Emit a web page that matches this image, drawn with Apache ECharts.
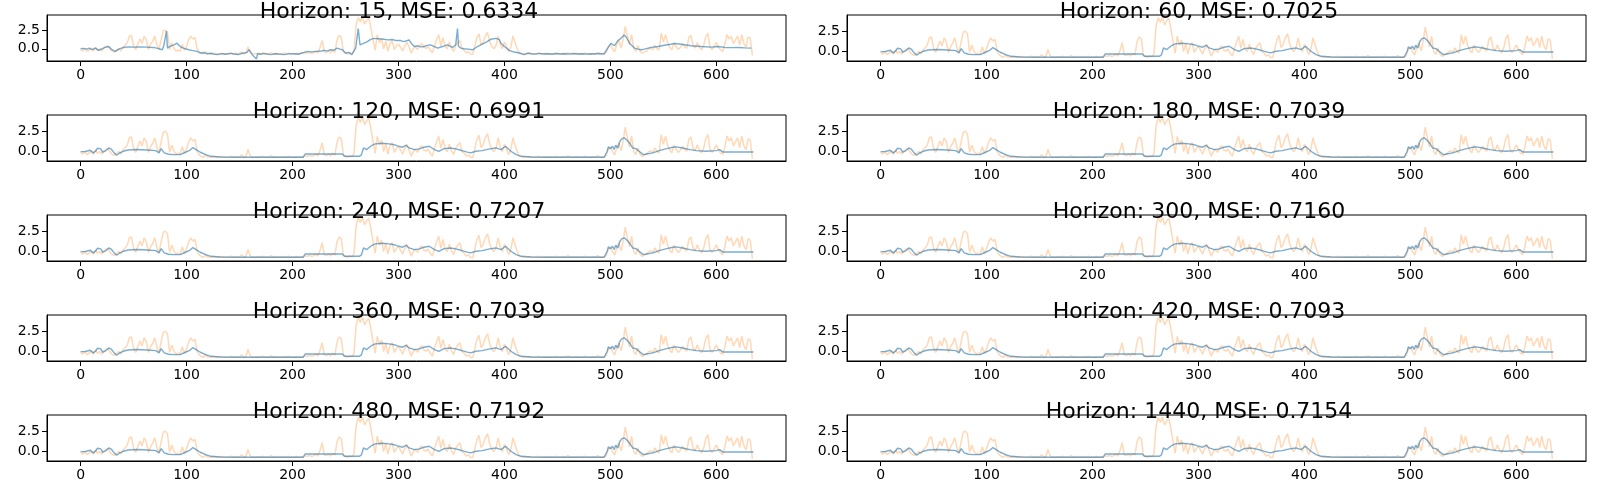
<!DOCTYPE html>
<html>
<head>
<meta charset="utf-8">
<script src="https://cdn.jsdelivr.net/npm/echarts@6/dist/echarts.min.js"></script>
<style>
html,body{margin:0;padding:0;background:#fff}
#main{width:1600px;height:500px}
</style>
</head>
<body>
<div id="main"></div>
<script>
// subplot labels, row-major (left col, right col)
var horizons = [15, 60, 120, 180, 240, 300, 360, 420, 480, 1440];
var mseVals = ['0.6334', '0.7025', '0.6991', '0.7039', '0.7207', '0.7160', '0.7039', '0.7093', '0.7192', '0.7154'];
var xTicks = [0, 100, 200, 300, 400, 500, 600];
var yTicks = [0, 2.5];

// ground truth, one value every 2 steps (0..634)
var actualStep = 2;
var actual = [
  -0.1,-0.3,0.0,-0.35,-0.2,0.1,-0.3,0.2,-0.2,0.0,-0.3,0.1,0.3,0.35,-0.1,-0.35,-0.45,-0.2,0.0,-0.3,0.2,
  0.45,0.8,1.7,1.8,0.4,-0.1,0.6,1.3,0.7,1.7,1.2,-0.1,0.6,1.0,1.7,0.5,-0.1,1.2,2.4,2.5,2.2,-0.1,0.8,0.1,
  -0.3,-0.2,-0.3,0.6,-0.2,0.3,1.2,1.7,1.3,1.5,0.0,-0.4,-0.6,-0.7,-0.4,-0.7,-0.65,-0.7,-0.6,-0.7,-0.65,
  -0.7,-0.6,-0.7,-0.65,-0.7,-0.55,-0.7,-0.6,-0.7,-0.65,-0.4,-0.7,-0.6,0.25,-0.5,-0.7,-0.65,-0.7,-0.6,-0.7,
  -0.55,-0.7,-0.65,-0.7,-0.5,-0.7,-0.6,-0.7,-0.65,-0.7,-0.6,-0.7,-0.55,-0.7,-0.65,-0.7,-0.6,-0.7,-0.65,-0.6,
  -0.5,-0.6,-0.45,-0.6,-0.5,-0.3,-0.55,0.2,1.1,-0.4,-0.5,-0.3,-0.55,-0.2,-0.45,1.2,1.8,1.6,-0.4,-0.6,-0.7,-0.55,-0.65,-0.3,
  3.2,4.2,3.6,4.25,3.3,3.8,4.1,2.8,1.2,-0.2,1.9,0.8,1.4,0.0,1.0,-0.3,0.7,1.1,-0.1,0.4,0.6,
  0.2,-0.3,0.4,0.9,0.2,-0.55,0.0,0.3,-0.1,0.5,0.7,0.2,0.05,0.3,-0.2,-0.55,0.4,1.2,1.9,0.4,1.5,0.3,0.0,0.9,0.1,
  -0.35,0.45,0.8,1.1,0.0,-0.2,-0.55,-0.4,-0.7,-0.75,0.3,1.5,2.0,0.5,0.9,1.7,2.2,1.0,0.3,0.0,0.4,1.7,0.6,0.0,0.9,
  0.3,-0.35,0.2,1.7,0.8,0.0,-0.55,-0.65,-0.7,
  -0.65,-0.7,-0.6,-0.7,-0.65,-0.7,-0.55,-0.7,-0.65,-0.7,-0.6,-0.7,-0.65,-0.7,-0.55,-0.7,-0.65,-0.7,-0.6,-0.7,
  -0.5,-0.7,-0.65,-0.7,-0.6,-0.7,-0.65,-0.7,-0.55,-0.7,-0.65,-0.7,-0.6,-0.7,-0.5,-0.7,-0.65,-0.7,
  -0.5,0.3,0.6,0.0,-0.4,0.5,1.1,0.1,1.3,3.0,1.7,0.6,1.9,0.0,-0.35,0.45,-0.3,-0.6,-0.4,-0.35,0.0,0.1,-0.15,0.45,0.0,
  -0.15,2.1,0.9,1.9,0.8,0.2,-0.15,0.8,0.3,-0.1,0.2,0.65,0.3,0.05,1.5,1.8,0.4,0.1,0.85,0.2,-0.15,0.45,1.6,2.1,0.25,
  -0.1,0.3,0.85,0.2,-0.15,-0.35,0.6,1.9,1.3,1.7,0.7,1.2,1.7,0.5,1.9,0.7,0.2,1.6,1.4,-0.9
];

// horizon 15 prediction (read points)
var predShortT = [0,3,6,8,10.7,12,14,17,20,23,26.5,29.6,32.8,36,40.6,45,50,55,62.7,68,72,77,78.5,81,82,84,88,91,94,97,
  102,105,110,113,116,119,123,126,129,133,137,141,145,149,153,157,159,162,166,167,170,173,176,180,184,188,192,196,201,205,
  208,211,214,218,223,227,230,233,236,239,242,245,247,250,253,256,259.6,262,263.7,267.5,270.6,273.8,277,281,286,290,294,298,302,305,
  310,312,315,318,321,324,327,330,334,337,341.5,346,351,354,355.7,356.7,359,362,365,370,374.6,378,381,384,387,392,395,396.7,400,404.5,
  409,414,418.7,422,425,429,433,437,441,445,449,453,457,461,465,469,473,477,481,485,489,494,497.5,500.6,503.8,507,510,513,515,518,
  522.7,526,529,532,538.5,545,551,557,560.5,567,576,585.7,595,601.5,607.8,614,620.4,627,633];
var predShortV = [0,0.05,-0.04,0.1,-0.13,0.05,0.09,-0.22,0.0,0.18,0.3,-0.13,-0.35,-0.04,0.18,0.25,0.22,0.25,0.22,0.18,0.09,-0.13,0.4,2.37,0.09,0.3,0.53,0.75,0.3,0.09,
  -0.13,-0.22,-0.35,-0.57,-0.5,-0.66,-0.6,-0.72,-0.79,-0.66,-0.74,-0.62,-0.7,-0.76,-0.6,-0.48,-0.13,-0.79,-1.36,-0.66,-0.74,-0.62,-0.7,-0.78,-0.66,-0.72,-0.79,-0.68,-0.66,-0.74,
  -0.6,-0.48,-0.35,-0.42,-0.35,-0.3,-0.22,-0.28,-0.13,-0.2,0.09,-0.05,-0.13,-0.57,-0.48,-0.79,0.09,2.7,0.53,0.75,0.96,1.27,1.4,1.35,1.27,1.2,1.25,1.1,1.1,0.96,
  1.18,0.75,0.3,0.4,0.25,0.3,0.45,0.53,0.3,0.09,0.3,0.53,0.18,0.53,2.7,0.3,0.09,0.0,-0.04,-0.13,0.3,0.55,0.75,1.0,1.27,1.4,1.27,0.75,0.3,-0.22,
  -0.44,-0.57,-0.79,-0.57,-0.66,-0.72,-0.62,-0.7,-0.66,-0.74,-0.64,-0.7,-0.66,-0.72,-0.64,-0.7,-0.66,-0.72,-0.66,-0.7,-0.64,-0.7,0.09,0.75,0.4,1.1,1.4,1.84,1.54,0.75,
  0.09,-0.05,-0.13,-0.04,0.18,0.3,0.48,0.61,0.7,0.61,0.4,0.3,0.22,0.3,0.18,0.15,0.18,0.12,0.09];

// longer horizons prediction (read points, shared)
var predLongT = [0,4,7,9,10,12,14,16,19,21,24,26.5,29,31,34,37,41,45,53,63,71,74,76,79,83,88,94,99,103,106,
  109,113,118,123,132,150,170,190,210,212,230,247,249,263,265,267,270,275,278,285,291,296,299,304,307,310,315,320,324,329,
  334,338,343,349,354,359,364,368,373,379,386,392,397,401,406,411,416,425,440,460,480,494,497,498,500,502,503.5,505,507,509,
  511,513,515,518,521,524,527,531,534,540,546,553,559,562,568,575,581,590,600,603,606,613,622,635];
var predLongV = [0.0,0.0,0.1,0.16,0.33,-0.16,0.04,0.41,0.33,-0.08,0.12,0.45,0.29,-0.04,-0.45,-0.16,0.08,0.2,0.25,0.2,0.12,-0.16,0.37,-0.16,-0.33,-0.37,-0.37,-0.08,0.16,0.5,
  0.25,-0.08,-0.37,-0.58,-0.66,-0.7,-0.68,-0.7,-0.7,-0.29,-0.29,-0.29,-0.58,-0.58,-0.4,0.45,0.25,0.78,0.95,1.03,0.95,0.85,0.7,0.54,0.78,0.45,0.25,0.33,0.54,0.66,
  0.25,0.04,0.37,0.45,0.33,0.16,-0.04,-0.16,0.04,0.12,0.33,0.45,0.25,0.66,0.04,-0.37,-0.58,-0.66,-0.7,-0.7,-0.7,-0.7,0.04,0.58,0.35,0.66,0.25,0.78,0.45,1.28,
  1.6,1.69,1.49,1.07,0.45,0.37,0.04,-0.37,-0.3,-0.16,0.12,0.37,0.54,0.58,0.45,0.25,0.12,0.04,0.12,0.25,-0.04,-0.04,-0.04,-0.04];

function pairs(ts, vs) {
  var out = [];
  for (var i = 0; i < vs.length; i++) out.push([ts[i], vs[i]]);
  return out;
}

// matplotlib style 5% margins
function span(list) {
  var lo = Infinity, hi = -Infinity;
  list.forEach(function (d) { lo = Math.min(lo, d[1]); hi = Math.max(hi, d[1]); });
  var p = (hi - lo) * 0.05;
  return [lo - p, hi + p];
}

function drawAll() {
  var actualData = [];
  for (var i = 0; i < actual.length; i++) actualData.push([i * actualStep, actual[i]]);
  var shortData = pairs(predShortT, predShortV);
  var longData = pairs(predLongT, predLongV);
  var xMaxData = (actual.length - 1) * actualStep;
  var xMin = -0.05 * xMaxData, xMax = xMaxData * 1.05;

  var font = 'DejaVu Sans';
  var grids = [], xAxes = [], yAxes = [], titles = [], series = [];
  for (var k = 0; k < horizons.length; k++) {
    var row = Math.floor(k / 2), col = k % 2;
    var gLeft = col === 0 ? 47 : 847;
    var gTop = 15 + row * 100;
    var pred = k === 0 ? shortData : longData;
    var yr = span(actualData.concat(pred));
    grids.push({left: gLeft, top: gTop, width: 739, height: 46, show: true, borderColor: '#000', borderWidth: 1});
    xAxes.push({
      type: 'value', gridIndex: k, min: xMin, max: xMax,
      axisLine: {show: true, onZero: false, lineStyle: {color: '#000', width: 1}},
      axisTick: {show: true, length: 5, customValues: xTicks.slice(), lineStyle: {color: '#000'}},
      axisLabel: {customValues: xTicks.slice(), margin: 7, color: '#000', fontSize: 14, fontFamily: font},
      splitLine: {show: false}
    });
    yAxes.push({
      type: 'value', gridIndex: k, min: yr[0], max: yr[1],
      axisLine: {show: true, onZero: false, lineStyle: {color: '#000', width: 1}},
      axisTick: {show: true, length: 5, customValues: yTicks.slice(), lineStyle: {color: '#000'}},
      axisLabel: {customValues: yTicks.slice(), margin: 7, color: '#000', fontSize: 14, fontFamily: font,
        formatter: function (v) { return v.toFixed(1); }},
      splitLine: {show: false}
    });
    titles.push({
      text: 'Horizon: ' + horizons[k] + ', MSE: ' + mseVals[k],
      left: col === 0 ? 399 : 1199, top: gTop - 14, textAlign: 'center', padding: 0,
      textStyle: {fontSize: 22, fontWeight: 'normal', color: '#000', fontFamily: font}
    });
    series.push({
      type: 'line', xAxisIndex: k, yAxisIndex: k, data: actualData.slice(), showSymbol: false, symbol: 'none',
      lineStyle: {color: 'rgba(255,127,14,0.3)', width: 1.5}, z: 2, silent: true
    });
    series.push({
      type: 'line', xAxisIndex: k, yAxisIndex: k, data: pred.slice(), showSymbol: false, symbol: 'none',
      lineStyle: {color: 'rgba(31,119,180,0.6)', width: 1.4}, z: 3, silent: true
    });
  }

  var chart = echarts.init(document.getElementById('main'));
  chart.setOption({
    animation: false,
    backgroundColor: '#fff',
    title: titles,
    grid: grids,
    xAxis: xAxes,
    yAxis: yAxes,
    series: series
  });
}
drawAll();
</script>
</body>
</html>
